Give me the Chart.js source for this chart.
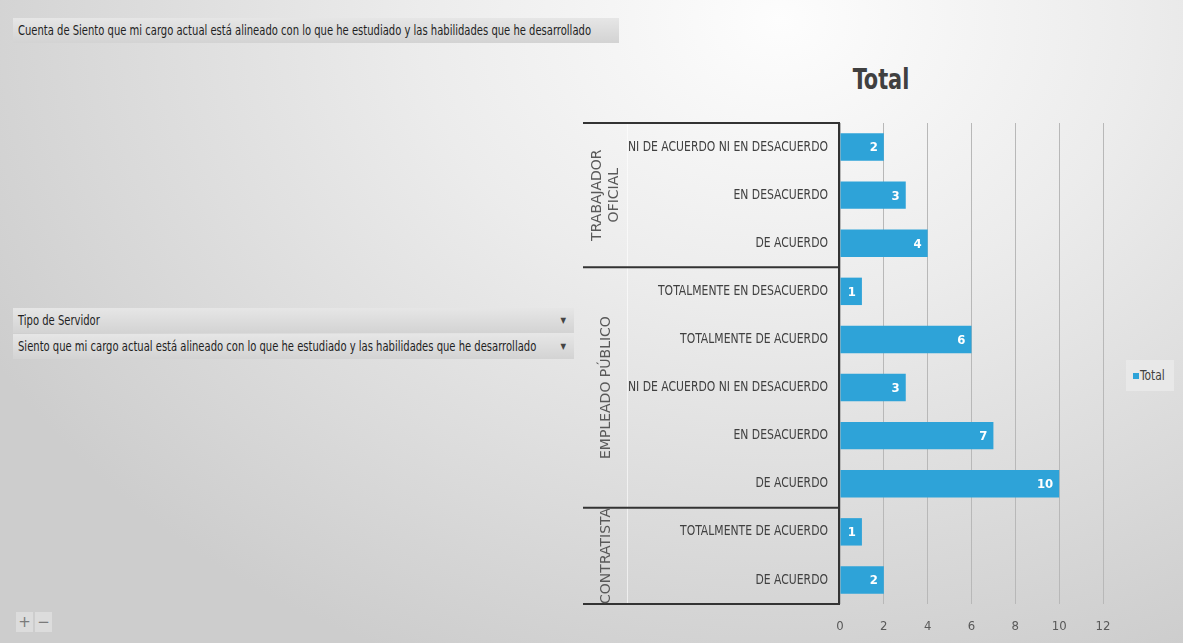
<!DOCTYPE html>
<html>
<head>
<meta charset="utf-8">
<script src="https://cdn.jsdelivr.net/npm/chart.js@4/dist/chart.umd.min.js"></script>
<style>
html,body{margin:0;padding:0;}
body{width:1183px;height:643px;overflow:hidden;position:relative;
 background:radial-gradient(ellipse 900px 700px at 780px 20px,#fdfdfd 0%,#ececec 40%,#dadada 75%,#cdcdcd 100%);
 font-family:"DejaVu Sans Condensed",sans-serif;}
#c{position:absolute;left:0;top:0;}
.btn{position:absolute;box-sizing:border-box;background:linear-gradient(to bottom,#e6e6e6,#d3d3d3);
 color:#1f1f1f;font-size:14px;line-height:25px;white-space:nowrap;overflow:hidden;}
.btn .t{position:absolute;left:5px;top:0;transform-origin:0 50%;display:inline-block;}
.arr{position:absolute;right:8px;top:0;font-size:8px;color:#444;}
#title{position:absolute;left:800px;width:162px;top:62px;text-align:center;font-weight:bold;font-size:29px;color:#404040;transform:scaleX(0.8);}
#legend{position:absolute;left:1126px;top:360px;width:48px;height:31px;background:rgba(235,235,235,0.75);}
#legend .sq{position:absolute;left:7px;top:13px;width:6px;height:6px;background:#2ea3d8;}
#legend .tx{position:absolute;left:14px;top:7px;font-size:14px;color:#404040;transform:scaleX(0.85);transform-origin:0 50%;}
.pm{position:absolute;top:612px;width:17px;height:20px;background:#dcdcdc;color:#7a7a7a;font-size:15px;line-height:20px;text-align:center;font-family:"DejaVu Sans",sans-serif;}
</style>
</head>
<body>
<div class="btn" style="left:13px;top:18px;width:606px;height:25px;"><span class="t" id="t0">Cuenta de Siento que mi cargo actual está alineado con lo que he estudiado y las habilidades que he desarrollado</span></div>
<div class="btn" style="left:13px;top:308px;width:561px;height:25px;"><span class="t">Tipo de Servidor</span><span class="arr">▼</span></div>
<div class="btn" style="left:13px;top:334px;width:561px;height:25px;"><span class="t" id="t2">Siento que mi cargo actual está alineado con lo que he estudiado y las habilidades que he desarrollado</span><span class="arr">▼</span></div>
<div id="title">Total</div>
<div id="legend"><div class="sq"></div><div class="tx">Total</div></div>
<div class="pm" style="left:16px;">+</div>
<div class="pm" style="left:35px;">−</div>
<canvas id="c" width="1183" height="643"></canvas>
<script>
// ---- data ----
const categories = [
  "NI DE ACUERDO NI EN DESACUERDO","EN DESACUERDO","DE ACUERDO",
  "TOTALMENTE EN DESACUERDO","TOTALMENTE DE ACUERDO","NI DE ACUERDO NI EN DESACUERDO","EN DESACUERDO","DE ACUERDO",
  "TOTALMENTE DE ACUERDO","DE ACUERDO"
];
const totals = [2,3,4, 1,6,3,7,10, 1,2];
const groupNames = [["TRABAJADOR","OFICIAL"],["EMPLEADO PÚBLICO"],["CONTRATISTA"]];
const groupSizes = [3,5,2];
const xTicks = [0,2,4,6,8,10,12];

// condense the field-button texts
(function(){
  const w0 = document.getElementById('t0').getBoundingClientRect().width;
  const f = 573 / w0;
  document.querySelectorAll('.btn .t').forEach(s => s.style.transform = 'scaleX(' + f + ')');
})();

const COND = '"DejaVu Sans Condensed",sans-serif';

const overlay = {
  id:'overlay',
  afterDraw(chart){
    const ctx = chart.ctx, y = chart.scales.y, ca = chart.chartArea;
    const boxLeft = 583, axisX = ca.left - 1;
    const step = (y.getPixelForValue(1) - y.getPixelForValue(0));
    ctx.save();
    // faint inner separator
    ctx.strokeStyle = 'rgba(255,255,255,0.6)'; ctx.lineWidth = 1;
    ctx.beginPath(); ctx.moveTo(627.5, ca.top); ctx.lineTo(627.5, ca.bottom); ctx.stroke();
    // group boundaries
    ctx.strokeStyle = '#333333'; ctx.lineWidth = 2;
    let idx = 0;
    const bounds = [ca.top];
    groupSizes.forEach(n => { idx += n; bounds.push(y.getPixelForValue(idx-1) + step/2); });
    bounds.forEach(b => { ctx.beginPath(); ctx.moveTo(boxLeft, b); ctx.lineTo(axisX+1, b); ctx.stroke(); });
    ctx.beginPath(); ctx.moveTo(axisX, ca.top-1); ctx.lineTo(axisX, ca.bottom+1); ctx.stroke();
    // category labels (condensed)
    ctx.font = '14px ' + COND;
    const fx = 200 / ctx.measureText(categories[0]).width;
    ctx.fillStyle = '#404040'; ctx.textAlign = 'right'; ctx.textBaseline = 'middle';
    categories.forEach((t,i) => {
      const py = y.getPixelForValue(i);
      ctx.save(); ctx.translate(828, py); ctx.scale(fx, 1);
      ctx.fillText(t, 0, 0);
      ctx.restore();
    });
    // group labels
    ctx.fillStyle = '#595959';
    ctx.font = '14px "DejaVu Sans", sans-serif';
    ctx.textAlign = 'center'; ctx.textBaseline = 'middle';
    for (let g=0; g<groupNames.length; g++){
      const cy = (bounds[g] + bounds[g+1]) / 2;
      const lines = groupNames[g];
      const cx = 606, lh = 17;
      ctx.save(); ctx.translate(cx, cy); ctx.rotate(-Math.PI/2);
      lines.forEach((t,i) => {
        const off = (i - (lines.length-1)/2) * lh;
        ctx.fillText(t, 0, off);
      });
      ctx.restore();
    }
    // data labels
    ctx.fillStyle = '#ffffff';
    ctx.font = 'bold 13px ' + COND;
    ctx.textAlign = 'right'; ctx.textBaseline = 'middle';
    chart.getDatasetMeta(0).data.forEach((bar,i) => {
      ctx.fillText(String(totals[i]), bar.x - 6, bar.y + 1);
    });
    ctx.restore();
  }
};

new Chart(document.getElementById('c'), {
  type:'bar',
  data:{ labels: categories, datasets:[{ label:'Total', data: totals, backgroundColor:'#2ea3d8',
    barPercentage:0.57, categoryPercentage:1.0 }]},
  options:{
    responsive:false, animation:false, indexAxis:'y',
    layout:{ padding:{ top:123, right:80, bottom:0, left:0 } },
    plugins:{ legend:{display:false}, tooltip:{enabled:false}, title:{display:false} },
    scales:{
      x:{ min:0, max:12, afterBuildTicks(s){ s.ticks = xTicks.map(v=>({value:v})); },
          grid:{ color:'#b8b8b8', lineWidth:1, drawTicks:false },
          border:{ display:false },
          ticks:{ color:'#595959', font:{ family:COND, size:13 }, padding:15 },
          afterFit(s){ s.height = 39; } },
      y:{ grid:{ display:false, drawTicks:false }, border:{ display:false },
          ticks:{ display:false },
          afterFit(s){ s.width = 840; } }
    }
  },
  plugins:[overlay]
});
</script>
</body>
</html>
